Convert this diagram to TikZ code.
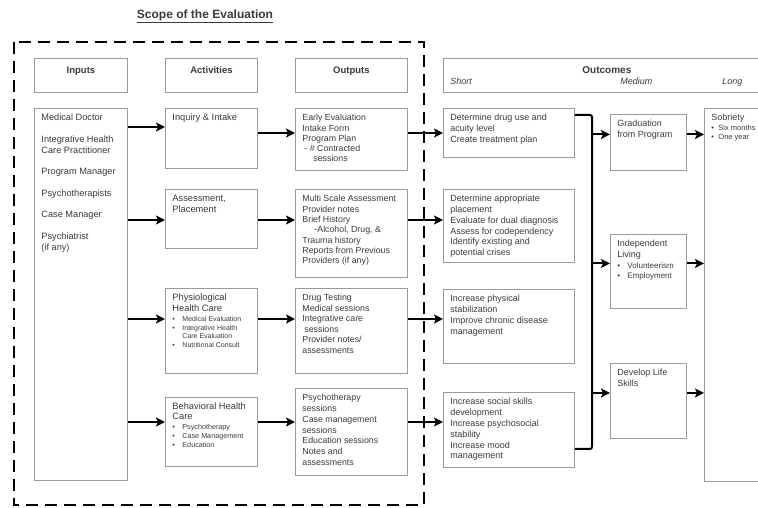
\documentclass[tikz,border=0pt]{standalone}
\usepackage{fontspec}
\setmainfont{Liberation Sans}
\usepackage{tikz}
\usetikzlibrary{positioning,calc,arrows.meta}
\definecolor{gris}{HTML}{9A9A9A}
\definecolor{texte}{HTML}{3A3A3A}
\newcommand{\bloc}[3]{\begin{minipage}[t][#2pt][t]{\dimexpr#1pt-14pt\relax}\raggedright\rule{0pt}{12.5pt}#3\end{minipage}}
\newcommand{\entete}[2]{\begin{minipage}[t][34pt][t]{\dimexpr#1pt-14pt\relax}\centering\rule{0pt}{15pt}\textbf{#2}\end{minipage}}
\newcommand{\puce}{\makebox[10pt][l]{\textbullet}}
\newcommand{\retrait}{\hspace*{10pt}}
\tikzset{
	boite/.style={draw=gris,line width=0.9pt,anchor=north west,inner xsep=7pt,inner ysep=0pt,text=texte,font=\fontsize{9}{10.8}\selectfont},
	fleche/.style={line width=2pt,-{Stealth[length=9pt,width=9pt,inset=2pt]}},
	liaison/.style={line width=2pt,rounded corners=2pt},
	cadre/.style={line width=2.8pt,dash pattern=on 12pt off 7pt}
}

\begin{document}
\begin{tikzpicture}[x=1pt,y=-1pt]
\useasboundingbox (0,0) rectangle (758,508);
\clip (0,0) rectangle (758,508); % la boite de droite sort de l'image

%Titre
\node[text=texte,font=\bfseries\fontsize{12}{14}\selectfont] (titre) at (205,16) {\underline{Scope of the Evaluation}};

%Cadre de l'evaluation
\draw[cadre] (14,42) rectangle (424,505);

%En-tetes
\node[boite,font=\fontsize{9.5}{11}\selectfont] (hIn) at (34,58) {\entete{93}{Inputs}};
\node[boite,font=\fontsize{9.5}{11}\selectfont] (hAct) at (165,58) {\entete{92}{Activities}};
\node[boite,font=\fontsize{9.5}{11}\selectfont] (hOutp) at (295,58) {\entete{112}{Outputs}};
\node[boite] (hOutc) at (443,58) {\bloc{360}{34}{\rule{0pt}{15pt}\hspace*{132pt}{\bfseries\fontsize{10}{11}\selectfont Outcomes}\\
	\makebox[170pt][l]{\itshape Short}\makebox[102pt][l]{\itshape Medium}\textit{Long}}};

%Entrees
\node[boite,font=\fontsize{9.2}{11}\selectfont] (inp) at (34,108) {\bloc{93}{372}{Medical Doctor\\[10.5pt]
	Integrative Health\\Care Practitioner\\[10.5pt]
	Program Manager\\[10.5pt]
	Psychotherapists\\[10.5pt]
	Case Manager\\[10.5pt]
	Psychiatrist\\(if any)}};

%Activites
\node[boite,font=\fontsize{9.3}{10.6}\selectfont] (a1) at (165,108) {\bloc{92}{60}{Inquiry \& Intake}};
\node[boite,font=\fontsize{9.3}{10.6}\selectfont] (a2) at (165,189) {\bloc{92}{59}{Assessment,\\Placement}};
\node[boite,font=\fontsize{9.3}{10.8}\selectfont] (a3) at (165,288) {\bloc{92}{85}{Physiological\\Health Care\par\vspace{1.5pt}
	{\fontsize{7}{8.5}\selectfont\puce Medical Evaluation\\\puce Integrative Health\\\retrait Care Evaluation\\\puce Nutritional Consult\par}}};
\node[boite,font=\fontsize{9.3}{10}\selectfont] (a4) at (165,397) {\bloc{92}{69}{Behavioral Health\\Care\par\vspace{1pt}
	{\fontsize{7.2}{9}\selectfont\puce Psychotherapy\\\puce Case Management\\\puce Education\par}}};

%Sorties
\node[boite,font=\fontsize{8.8}{10.2}\selectfont] (o1) at (295,108) {\bloc{112}{62}{Early Evaluation\\Intake Form\\Program Plan\\
	\hspace*{2pt}- \# Contracted\\\hspace*{11pt}sessions}};
\node[boite,font=\fontsize{8.8}{10.3}\selectfont] (o2) at (295,189) {\bloc{112}{88}{Multi Scale Assessment\\Provider notes\\Brief History\\
	\hspace*{12pt}-Alcohol, Drug, \&\\Trauma history\\Reports from Previous\\Providers (if any)}};
\node[boite,font=\fontsize{8.8}{10.5}\selectfont] (o3) at (295,288) {\bloc{112}{85}{Drug Testing\\Medical sessions\\Integrative care\\
	\hspace*{2pt}sessions\\Provider notes/\\assessments}};
\node[boite,font=\fontsize{8.8}{10.7}\selectfont] (o4) at (295,388) {\bloc{112}{87}{Psychotherapy\\sessions\\Case management\\sessions\\
	Education sessions\\Notes and\\assessments}};

%Resultats a court terme
\node[boite] (s1) at (443,108) {\bloc{131}{49}{Determine drug use and\\acuity level\\Create treatment plan}};
\node[boite,font=\fontsize{9}{10.7}\selectfont] (s2) at (443,189) {\bloc{131}{73}{Determine appropriate\\placement\\Evaluate for dual diagnosis\\
	Assess for codependency\\Identify existing and\\potential crises}};
\node[boite] (s3) at (443,289) {\bloc{131}{74}{Increase physical\\stabilization\\Improve chronic disease\\management}};
\node[boite] (s4) at (443,392) {\bloc{131}{75}{Increase social skills\\development\\Increase psychosocial\\stability\\
	Increase mood\\management}};

%Moyen terme
\node[boite] (m1) at (610,114) {\bloc{76}{56}{Graduation\\from Program}};
\node[boite] (m2) at (610,234) {\bloc{76}{74}{Independent\\Living\par
	{\fontsize{8}{10.5}\selectfont\puce Volunteerism\\\puce Employment\par}}};
\node[boite] (m3) at (610,363) {\bloc{76}{75}{Develop Life\\Skills}};

%Long terme
\node[boite] (lg) at (704,108) {\bloc{100}{373}{Sobriety\par
	{\fontsize{7.5}{9.5}\selectfont\makebox[7pt][l]{\textbullet}Six months\\\makebox[7pt][l]{\textbullet}One year\par}}};

%Fleches des quatre lignes
\foreach \r/\ya/\yb in {1/127/133,2/220/220,3/319/319,4/422/422}{
	\coordinate (ya) at (0,\ya);
	\coordinate (yb) at (0,\yb);
	\draw[fleche] (inp.east |- ya) -- (a\r.west |- ya);
	\draw[fleche] (a\r.east |- yb) -- (o\r.west |- yb);
	\draw[fleche] (o\r.east |- yb) -- (s\r.west |- yb);
}

%Accolade vers le moyen terme
\coordinate (b) at (592,0);
\coordinate (h) at ([yshift=-7pt]s1.north east);
\coordinate (l) at ([yshift=19pt]s4.south east);
\draw[liaison] (h) -| (b |- l) -- (l);

\foreach \m in {1,2,3}{
	\coordinate (p) at ([yshift=8pt]m\m.west);
	\draw[fleche] (b |- p) -- (p);
	\draw[fleche] ([yshift=8pt]m\m.east) -- (lg.west |- p);
}

\end{tikzpicture}
\end{document}
